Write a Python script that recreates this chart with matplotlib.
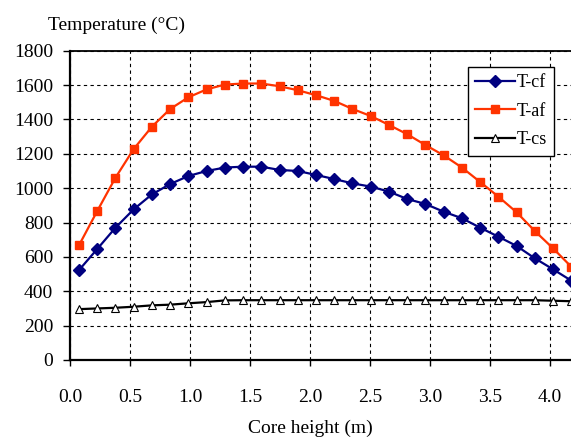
import matplotlib
matplotlib.use("Agg")
import matplotlib.pyplot as plt

# ---- data ----
core_height = [0.076, 0.227, 0.379, 0.531, 0.683, 0.835, 0.987, 1.139, 1.291, 1.443,
               1.595, 1.747, 1.898, 2.050, 2.202, 2.354, 2.506, 2.658, 2.810, 2.962,
               3.114, 3.266, 3.418, 3.569, 3.721, 3.873, 4.025, 4.177]
t_cf = [524, 646, 770, 877, 964, 1024, 1071, 1100, 1120, 1125, 1125, 1106, 1100, 1077,
        1053, 1028, 1009, 980, 937, 908, 863, 825, 770, 718, 664, 592, 528, 462]
t_af = [669, 867, 1061, 1228, 1358, 1461, 1529, 1575, 1603, 1609, 1609, 1593, 1570, 1541,
        1508, 1461, 1420, 1368, 1314, 1251, 1191, 1120, 1036, 951, 860, 751, 650, 543]
t_cs = [296, 300, 304, 310, 318, 322, 330, 337, 347, 348, 348, 348, 348, 348,
        348, 348, 348, 348, 348, 348, 348, 348, 348, 348, 348, 348, 345, 342]
x_ticks = [0.0, 0.5, 1.0, 1.5, 2.0, 2.5, 3.0, 3.5, 4.0]
x_tick_labels = ["0.0", "0.5", "1.0", "1.5", "2.0", "2.5", "3.0", "3.5", "4.0"]
y_ticks = [0, 200, 400, 600, 800, 1000, 1200, 1400, 1600, 1800]

plt.rcParams['font.family'] = ['Liberation Serif', 'DejaVu Serif']

W, H = 571, 437
fig = plt.figure(figsize=(W / 100, H / 100), dpi=100)
ax = fig.add_axes([70 / W, (H - 360) / H, 505 / W, (360 - 50.7) / H])

ax.plot(core_height, t_cf, color='#000080', lw=1.6, marker='D', ms=6.2,
        mfc='#000080', mec='#000080', label='T-cf')
ax.plot(core_height, t_af, color='#FF3300', lw=1.6, marker='s', ms=5.6,
        mfc='#FF3300', mec='#FF3300', label='T-af')
ax.plot(core_height, t_cs, color='black', lw=1.6, marker='^', ms=5.8,
        mfc='white', mec='black', mew=0.8, label='T-cs')

ax.set_xlim(0, 505 / 120)
ax.set_ylim(0, 1800)
ax.set_xticks(x_ticks)
ax.set_xticklabels(x_tick_labels)
ax.set_yticks(y_ticks)
ax.grid(True, color='black', linestyle=(0, (3, 3)), linewidth=0.8)
ax.set_axisbelow(True)

for s in ['left', 'bottom']:
    ax.spines[s].set_linewidth(1.6)
ax.spines['top'].set_linewidth(1.3)
ax.spines['right'].set_visible(False)

ax.tick_params(axis='x', direction='out', length=4, width=1, pad=17, labelsize=14)
ax.tick_params(axis='y', direction='out', length=5, width=1, pad=7, labelsize=14)

fig.text(117 / W, 1 - 25 / H, 'Temperature (°C)', ha='center', va='center', fontsize=14)
fig.text(310 / W, 1 - 428 / H, 'Core height (m)', ha='center', va='center', fontsize=14)

leg = ax.legend(loc='upper left', bbox_to_anchor=(467.7 / W, 1 - 66.7 / H),
                bbox_transform=fig.transFigure, fontsize=13, frameon=True,
                fancybox=False, edgecolor='black', framealpha=1,
                handlelength=2.2, handletextpad=0.1, labelspacing=0.65,
                borderpad=0.4, borderaxespad=0)
leg.get_frame().set_linewidth(1.0)

fig.savefig('out.png', dpi=100)
